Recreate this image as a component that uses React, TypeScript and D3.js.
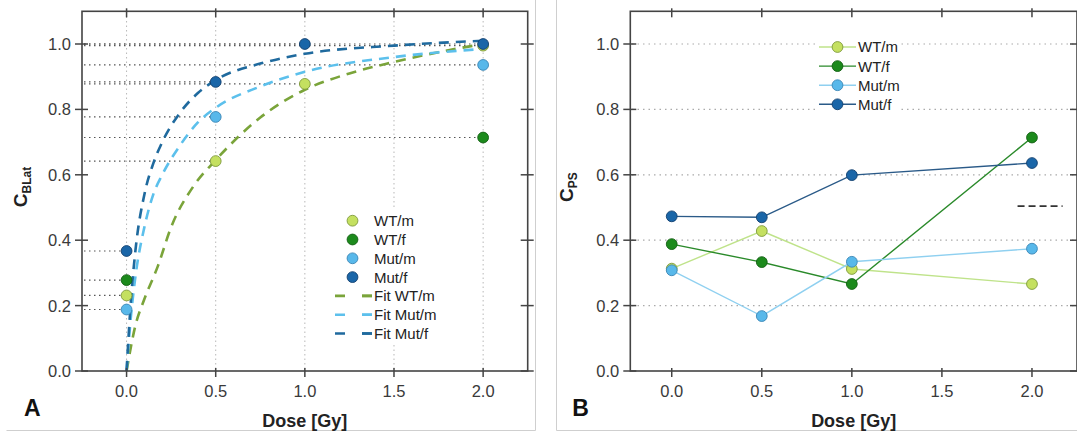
import React, { useEffect, useRef } from "react";
import * as d3 from "d3";

// doses where samples were taken
const doses = [0, 0.5, 1.0, 2.0];
const xTicks = [0, 0.5, 1.0, 1.5, 2.0];
const yTicks = [0, 0.2, 0.4, 0.6, 0.8, 1.0];
const gridTicksB = [0.2, 0.4, 0.6, 0.8, 1.0];

const seriesNames = ["WT/m", "WT/f", "Mut/m", "Mut/f"];

// panel A: C_BLat (null = no point shown)
const latWTm = [0.231, 0.642, 0.878, 0.995];
const latWTf = [0.278, null, null, 0.714];
const latMutm = [0.188, 0.777, null, 0.936];
const latMutf = [0.367, 0.884, 1.0, 1.0];

// panel A fit curves
const fitWTmDose = [0, 0.05, 0.1, 0.175, 0.25, 0.375, 0.5, 0.75, 1.0, 1.25, 1.5, 1.75, 2.0];
const fitWTm = [0.0, 0.14, 0.22, 0.32, 0.44, 0.565, 0.645, 0.775, 0.86, 0.91, 0.945, 0.975, 1.0];
const fitMutDose = [0, 0.025, 0.05, 0.1, 0.15, 0.2, 0.3, 0.4, 0.5, 0.75, 1.0, 1.5, 2.0];
const fitMutm = [0, 0.17, 0.29, 0.44, 0.54, 0.6, 0.69, 0.76, 0.805, 0.87, 0.915, 0.96, 0.985];
const fitMutf = [0, 0.22, 0.37, 0.54, 0.635, 0.7, 0.79, 0.85, 0.89, 0.94, 0.97, 0.995, 1.01];
const fitNames = ["Fit WT/m", "Fit Mut/m", "Fit Mut/f"];

// panel B: C_PS
const psWTm = [0.313, 0.428, 0.312, 0.266];
const psWTf = [0.388, 0.333, 0.266, 0.714];
const psMutm = [0.308, 0.168, 0.334, 0.374];
const psMutf = [0.473, 0.47, 0.599, 0.636];

// stray dashed mark at the right of panel B
const strayDose = [1.92, 2.17];
const strayValue = 0.504;

const markFill = ["#c4e060", "#1c8a1c", "#58b8ea", "#1a66a8"];
const markStroke = ["#7f9a3c", "#135f13", "#3a86b6", "#123f6e"];
const lineColB = ["#bfe38a", "#2a8a2a", "#8fd0f0", "#2a5a88"];
const fitCol = ["#7aa43a", "#5cc0ec", "#1f6a9e"];

const FONT = "'Liberation Sans', Arial, sans-serif";

export default function App() {
  const ref = useRef<SVGSVGElement>(null);

  useEffect(() => {
    const svg = d3.select(ref.current);
    svg.selectAll("*").remove();

    // panel borders
    svg.append("path")
      .attr("d", "M6.5,430.5 H535.5 V0")
      .attr("fill", "none").attr("stroke", "#cfcfcf").attr("stroke-width", 1);
    svg.append("path")
      .attr("d", "M556.5,0 V430.5 H1077")
      .attr("fill", "none").attr("stroke", "#cfcfcf").attr("stroke-width", 1);

    const frame = (g, x, y) => {
      const [l, r] = x.range();
      const [b, t] = y.range();
      g.append("rect")
        .attr("x", l).attr("y", t).attr("width", r - l).attr("height", b - t)
        .attr("fill", "none").attr("stroke", "#444").attr("stroke-width", 1.6);
      xTicks.forEach(v => {
        g.append("line").attr("x1", x(v)).attr("x2", x(v)).attr("y1", b - 3).attr("y2", b + 6)
          .attr("stroke", "#444").attr("stroke-width", 1.5);
        g.append("line").attr("x1", x(v)).attr("x2", x(v)).attr("y1", t - 3).attr("y2", t + 6)
          .attr("stroke", "#444").attr("stroke-width", 1.5);
        g.append("text").attr("x", x(v)).attr("y", b + 20).attr("dy", "0.36em")
          .attr("text-anchor", "middle").attr("font-size", 16.5).attr("fill", "#3a3a3a")
          .attr("font-family", FONT).text(d3.format(".1f")(v));
      });
      yTicks.forEach(v => {
        g.append("line").attr("x1", l - 7).attr("x2", l + 6).attr("y1", y(v)).attr("y2", y(v))
          .attr("stroke", "#444").attr("stroke-width", 1.5);
        g.append("line").attr("x1", r - 7).attr("x2", r + 6).attr("y1", y(v)).attr("y2", y(v))
          .attr("stroke", "#444").attr("stroke-width", 1.5);
        g.append("text").attr("x", l - 11).attr("y", y(v)).attr("dy", "0.36em")
          .attr("text-anchor", "end").attr("font-size", 16.5).attr("fill", "#3a3a3a")
          .attr("font-family", FONT).text(d3.format(".1f")(v));
      });
    };

    const titles = (g, x, y, sub, letter, tx) => {
      const [l, r] = x.range();
      g.append("text").attr("x", (l + r) / 2).attr("y", 427).attr("text-anchor", "middle")
        .attr("font-size", 18).attr("font-weight", "bold").attr("fill", "#222")
        .attr("font-family", FONT).text("Dose [Gy]");
      const yt = g.append("text")
        .attr("transform", `translate(${tx},187) rotate(-90)`)
        .attr("text-anchor", "middle").attr("font-weight", "bold").attr("fill", "#222")
        .attr("font-family", FONT);
      yt.append("tspan").attr("font-size", 19).text("C");
      yt.append("tspan").attr("font-size", 12).attr("dy", 4).text(sub);
      g.append("text").attr("x", l - 58).attr("y", 416).attr("font-size", 23)
        .attr("font-weight", "bold").attr("fill", "#111").attr("font-family", FONT).text(letter);
    };

    const dot = (g, cx, cy, i) => {
      g.append("circle").attr("cx", cx).attr("cy", cy).attr("r", 5.4)
        .attr("fill", markFill[i]).attr("stroke", markStroke[i]).attr("stroke-width", 0.9);
    };

    // ---------- panel A ----------
    const xA = d3.scaleLinear().domain([-0.25, 2.25]).range([82, 527.7]);
    const yA = d3.scaleLinear().domain([0, 1.1]).range([371, 11.3]);
    const gA = svg.append("g");

    xTicks.forEach(v => {
      gA.append("line").attr("x1", xA(v)).attr("x2", xA(v)).attr("y1", 12).attr("y2", 370)
        .attr("stroke", "#b8b8b8").attr("stroke-width", 1).attr("stroke-dasharray", "1.5,3");
    });

    const latData = [latWTm, latWTf, latMutm, latMutf];
    // drop lines from each point to the y axis
    latData.forEach(vals => {
      vals.forEach((v, j) => {
        if (v == null) return;
        gA.append("line").attr("x1", xA.range()[0] + 2).attr("x2", xA(doses[j]))
          .attr("y1", yA(v)).attr("y2", yA(v))
          .attr("stroke", "#555").attr("stroke-width", 1.2).attr("stroke-dasharray", "1.5,3.5");
      });
    });

    const fits = [
      [fitWTmDose, fitWTm],
      [fitMutDose, fitMutm],
      [fitMutDose, fitMutf],
    ];
    const fitLine = d3.line().curve(d3.curveMonotoneX);
    fits.forEach(([xs, ys], i) => {
      gA.append("path")
        .attr("d", fitLine(xs.map((d, k) => [xA(d), yA(ys[k])])))
        .attr("fill", "none").attr("stroke", fitCol[i]).attr("stroke-width", 2.6)
        .attr("stroke-dasharray", "10,7");
    });

    [latWTf, latMutm, latWTm, latMutf].forEach((vals, n) => {
      const i = [1, 2, 0, 3][n];
      vals.forEach((v, j) => {
        if (v != null) dot(gA, xA(doses[j]), yA(v), i);
      });
    });

    // legend A
    const legA = gA.append("g");
    legA.append("rect").attr("x", 328).attr("y", 209).attr("width", 112).attr("height", 133)
      .attr("fill", "#fff");
    const rowA = (k) => 220.7 + k * 18.8;
    seriesNames.forEach((name, i) => {
      dot(legA, 352.5, rowA(i), i);
      legA.append("text").attr("x", 374).attr("y", rowA(i)).attr("dy", "0.36em")
        .attr("font-size", 15).attr("fill", "#222").attr("font-family", FONT).text(name);
    });
    fitNames.forEach((name, i) => {
      const yy = rowA(i + 4);
      legA.append("line").attr("x1", 335).attr("x2", 372).attr("y1", yy).attr("y2", yy)
        .attr("stroke", fitCol[i]).attr("stroke-width", 2.6).attr("stroke-dasharray", "10,17");
      legA.append("line").attr("x1", 362).attr("x2", 372).attr("y1", yy).attr("y2", yy)
        .attr("stroke", fitCol[i]).attr("stroke-width", 2.6);
      legA.append("text").attr("x", 374).attr("y", yy).attr("dy", "0.36em")
        .attr("font-size", 15).attr("fill", "#222").attr("font-family", FONT).text(name);
    });

    frame(gA, xA, yA);
    titles(gA, xA, yA, "BLat", "A", 27);

    // ---------- panel B ----------
    const xB = d3.scaleLinear().domain([-0.23, 2.25]).range([630.3, 1077]);
    const yB = d3.scaleLinear().domain([0, 1.1]).range([371, 11.3]);
    const gB = svg.append("g");

    gridTicksB.forEach(v => {
      gB.append("line").attr("x1", 632).attr("x2", 1076).attr("y1", yB(v)).attr("y2", yB(v))
        .attr("stroke", "#aaa").attr("stroke-width", 1.2).attr("stroke-dasharray", "1.5,4");
    });

    const psData = [psWTm, psWTf, psMutm, psMutf];
    const lineB = d3.line();
    psData.forEach((vals, i) => {
      gB.append("path")
        .attr("d", lineB(vals.map((v, j) => [xB(doses[j]), yB(v)])))
        .attr("fill", "none").attr("stroke", lineColB[i]).attr("stroke-width", 1.4);
    });
    psData.forEach((vals, i) => {
      vals.forEach((v, j) => dot(gB, xB(doses[j]), yB(v), i));
    });

    gB.append("line").attr("x1", xB(strayDose[0])).attr("x2", xB(strayDose[1]))
      .attr("y1", yB(strayValue)).attr("y2", yB(strayValue))
      .attr("stroke", "#333").attr("stroke-width", 1.8).attr("stroke-dasharray", "7,4");

    // legend B
    const legB = gB.append("g");
    legB.append("rect").attr("x", 815).attr("y", 36).attr("width", 86).attr("height", 77)
      .attr("fill", "#fff");
    seriesNames.forEach((name, i) => {
      const yy = 47 + i * 19.1;
      legB.append("line").attr("x1", 819).attr("x2", 856).attr("y1", yy).attr("y2", yy)
        .attr("stroke", lineColB[i]).attr("stroke-width", 1.4);
      dot(legB, 837.5, yy, i);
      legB.append("text").attr("x", 858).attr("y", yy).attr("dy", "0.36em")
        .attr("font-size", 15).attr("fill", "#222").attr("font-family", FONT).text(name);
    });

    frame(gB, xB, yB);
    titles(gB, xB, yB, "PS", "B", 573);
  }, []);

  return (
    <svg
      ref={ref}
      width={1077}
      height={433}
      style={{ position: "absolute", left: 0, top: 0, background: "#fff" }}
    ></svg>
  );
}
